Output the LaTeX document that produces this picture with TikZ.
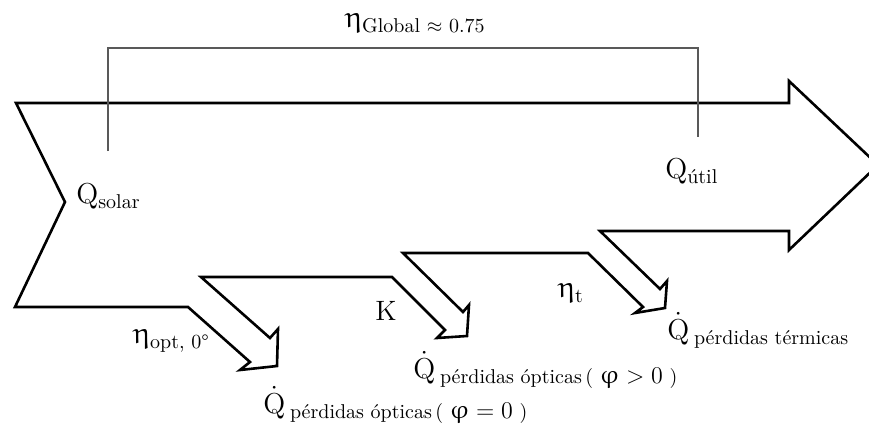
\documentclass[tikz,border=0pt]{standalone}
\usepackage{amsmath}
\usepackage{upgreek}
\usepackage{tikz}
\tikzset{
    flowline/.style={draw=black, line width=1.3pt, line join=miter},
    bracketline/.style={draw=black!65, line width=0.7pt},
    biglabel/.style={inner sep=0pt, anchor=base west, font=\fontsize{14}{17}\selectfont},
    etalabel/.style={biglabel, font=\fontsize{15}{18}\selectfont}
}
\newcommand{\sublbl}[1]{\raisebox{-2.5pt}{\fontsize{10}{12}\selectfont #1}}

\begin{document}
\begin{tikzpicture}[x=0.5pt, y=-0.5pt]
    \useasboundingbox (0,0) rectangle (869,425);

    % main flow with the three loss arrows
    \draw [flowline] (16,103) -- (789,103) -- (789,81) -- (878,165) -- (789,250) -- (789,231)
        -- (600,231) -- (660,289) -- (667,281) -- (665,308) -- (635,313) -- (643,307) -- (588,253)
        -- (403,253) -- (463,312) -- (469,305) -- (467,336) -- (437,338) -- (445,330) -- (392,277)
        -- (201,277) -- (270,338) -- (278,329) -- (277,366) -- (240,370) -- (250,362) -- (188,307)
        -- (15,307) -- (65,202) -- cycle;

    % global efficiency bracket
    \coordinate (brleft) at (108,151);
    \coordinate (brright) at (698,137);
    \draw [bracketline] (brleft) -- (brleft |- 0,48) -- (brright |- 0,48) -- (brright);

    \node (etaglobal) [etalabel] at (345,27) {$\upeta$\sublbl{Global $\approx$ 0.75}};
    \node (qsolar) [biglabel] at (76,203) {$\mathrm{Q}$\sublbl{solar}};
    \node (qutil) [biglabel] at (665,178) {$\mathrm{Q}$\sublbl{útil}};

    \node (etaopt) [etalabel] at (133,343) {$\upeta$\sublbl{opt, 0°}};
    \node (kfactor) [biglabel] at (375,320) {K};
    \node (etat) [etalabel] at (558,297) {$\upeta$\sublbl{t}};

    \node (lossopt0) [biglabel] at (263,413) {$\dot{\mathrm{Q}}$\,\sublbl{pérdidas ópticas\,( {\fontsize{13}{15}\selectfont$\upvarphi = 0$} )}};
    \node (lossopt) [biglabel] at (413,378) {$\dot{\mathrm{Q}}$\,\sublbl{pérdidas ópticas\,( {\fontsize{13}{15}\selectfont$\upvarphi > 0$} )}};
    \node (lossterm) [biglabel] at (667,339) {$\dot{\mathrm{Q}}$\,\sublbl{pérdidas térmicas}};
\end{tikzpicture}
\end{document}
